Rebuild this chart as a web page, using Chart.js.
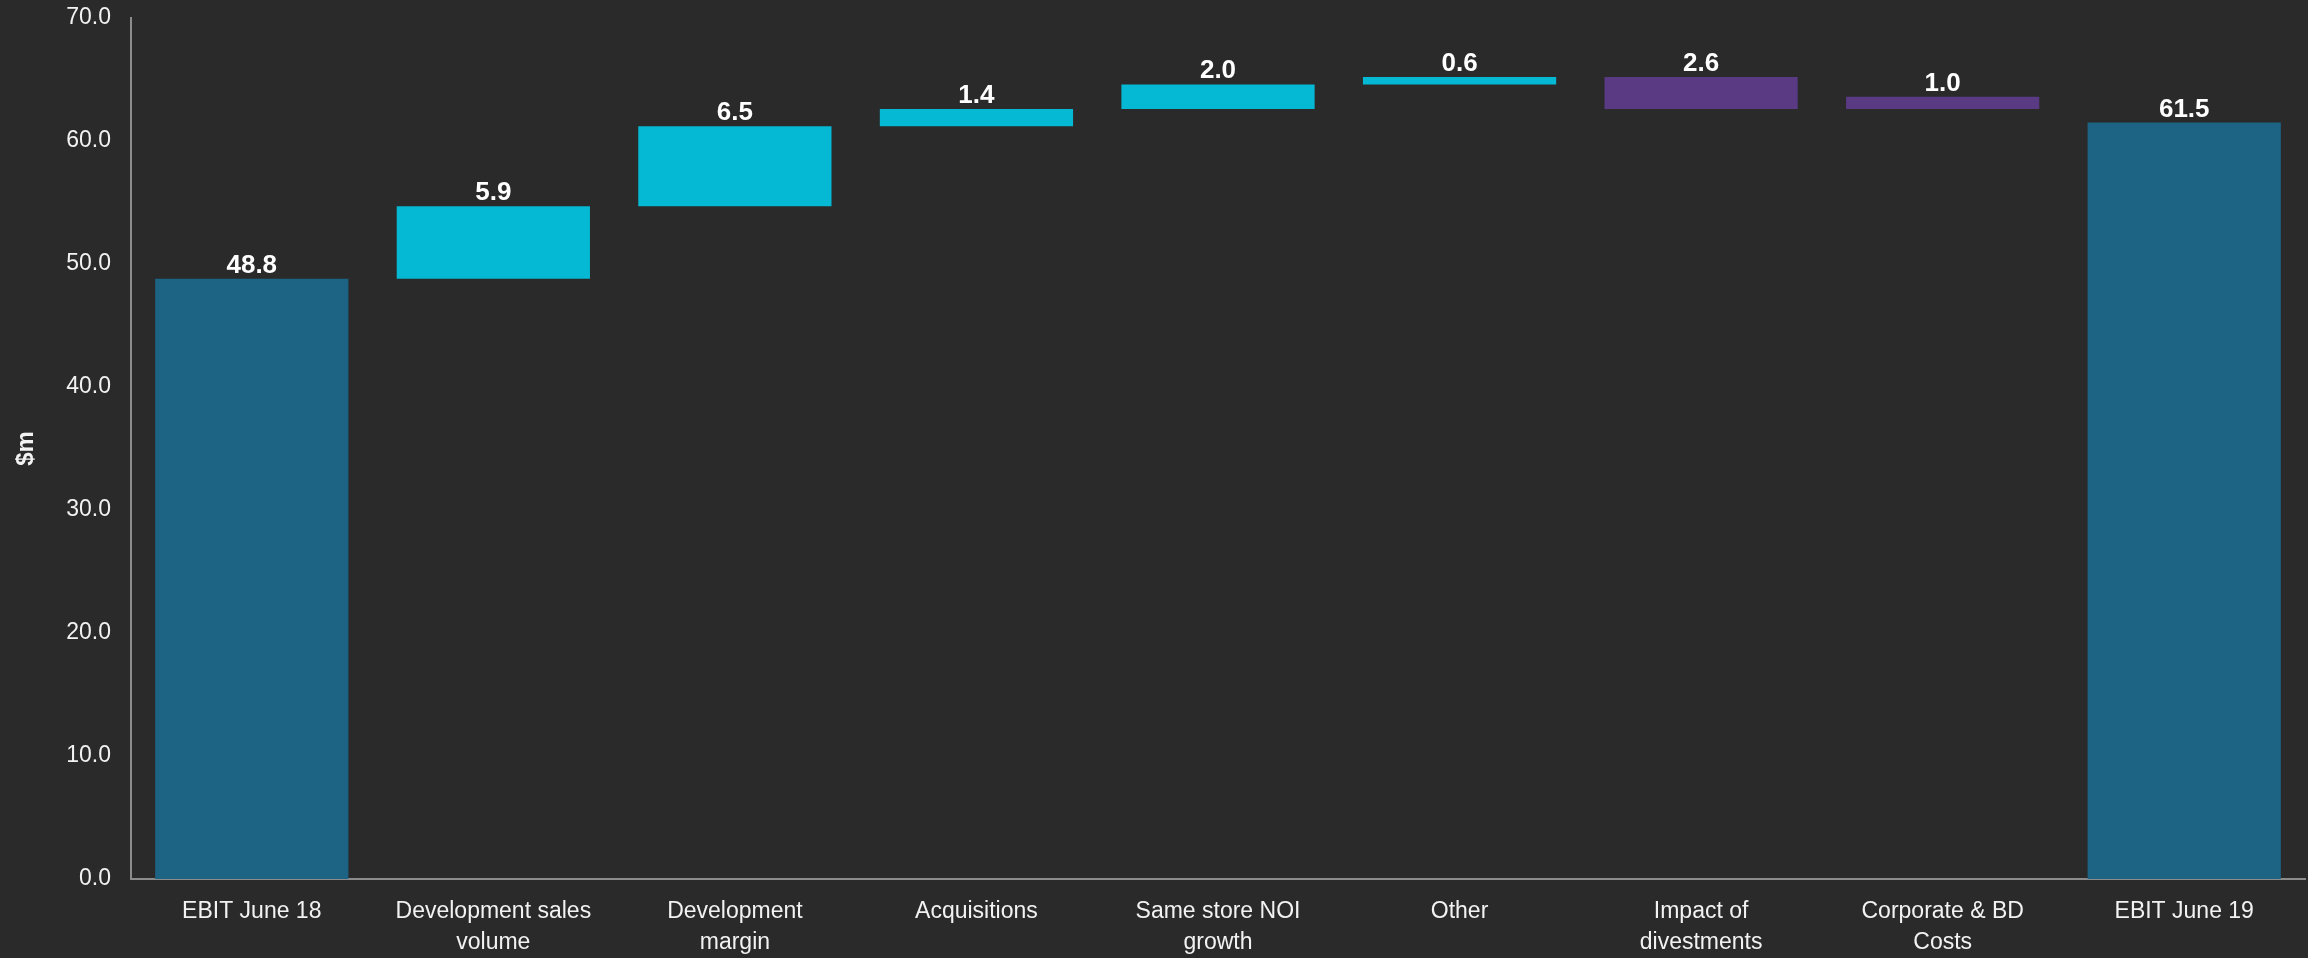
<!DOCTYPE html>
<html>
<head>
<meta charset="utf-8">
<title>EBIT bridge</title>
<script src="https://cdn.jsdelivr.net/npm/chart.js@4/dist/chart.umd.min.js"></script>
<style>
  body { margin: 0; background: #2a2a2a; }
  #wrap { width: 2308px; height: 958px; position: relative; }
</style>
</head>
<body>
<div id="wrap"><canvas id="mychart"></canvas></div>
<script>
// bridge data ($m)
var categories = [
    "EBIT June 18",
    ["Development sales", "volume"],
    ["Development", "margin"],
    "Acquisitions",
    ["Same store NOI", "growth"],
    "Other",
    ["Impact of", "divestments"],
    ["Corporate & BD", "Costs"],
    "EBIT June 19"
];
// value printed over each bar
var labelValues = [48.8, 5.9, 6.5, 1.4, 2.0, 0.6, 2.6, 1.0, 61.5];
// where each floating bar starts and ends, as drawn in the picture
var barLow = [0, 48.8, 54.7, 61.2, 62.6, 64.6, 62.6, 62.6, 0];
var barHigh = [48.8, 54.7, 61.2, 62.6, 64.6, 65.2, 65.2, 63.6, 61.5];
var barKind = ["total", "up", "up", "up", "up", "up", "down", "down", "total"];
var yTicks = [0, 10, 20, 30, 40, 50, 60, 70];

var kindColors = { total: "#1d6384", up: "#05b9d4", down: "#5a3a83" };
var fontFamily = "'Liberation Sans', Arial, sans-serif";

var ranges = barLow.map(function (lo, i) { return [lo, barHigh[i]]; });
var colors = barKind.map(function (k) { return kindColors[k]; });

// value above the top of each bar
var barLabels = {
    id: "barLabels",
    afterDatasetsDraw: function (chart) {
        var ctx = chart.ctx;
        var meta = chart.getDatasetMeta(0);
        ctx.save();
        ctx.fillStyle = "#ffffff";
        ctx.font = "bold 26px " + fontFamily;
        ctx.textAlign = "center";
        ctx.textBaseline = "alphabetic";
        meta.data.forEach(function (bar, i) {
            var top = Math.min(bar.y, bar.base);
            ctx.fillText(labelValues[i].toFixed(1), bar.x, top - 6);
        });
        ctx.restore();
    }
};

var context = document.getElementById("mychart").getContext("2d");
var chart = new Chart(context, {
    type: "bar",
    data: {
        labels: categories,
        datasets: [{
            data: ranges,
            backgroundColor: colors,
            borderWidth: 0,
            barPercentage: 0.8,
            categoryPercentage: 1
        }]
    },
    options: {
        responsive: true,
        maintainAspectRatio: false,
        animation: false,
        layout: { padding: { top: 18, right: 3, left: 0, bottom: 0 } },
        plugins: {
            legend: { display: false },
            tooltip: { enabled: false }
        },
        scales: {
            x: {
                grid: { display: false, drawTicks: false },
                border: { color: "#8c8c8c", width: 2 },
                ticks: {
                    color: "#f2f2f2",
                    padding: 17,
                    maxRotation: 0,
                    autoSkip: false,
                    font: { family: fontFamily, size: 23, lineHeight: 1.35 }
                },
                afterFit: function (scale) {
                    scale.height = 79;
                    scale.paddingLeft = 0;
                    scale.paddingRight = 0;
                }
            },
            y: {
                min: 0,
                max: 70,
                afterBuildTicks: function (scale) {
                    scale.ticks = yTicks.map(function (v) { return { value: v }; });
                },
                grid: { display: false, drawTicks: false },
                border: { color: "#8c8c8c", width: 2 },
                ticks: {
                    color: "#f2f2f2",
                    padding: 20,
                    font: { family: fontFamily, size: 23 },
                    callback: function (v) { return Number(v).toFixed(1); }
                },
                title: {
                    display: true,
                    text: "$m",
                    color: "#f2f2f2",
                    padding: { top: 12, bottom: 0 },
                    font: { family: fontFamily, size: 24, weight: "bold" }
                },
                afterFit: function (scale) {
                    scale.width = 131;
                    scale.paddingTop = 0;
                    scale.paddingBottom = 0;
                }
            }
        }
    },
    plugins: [barLabels]
});
</script>
</body>
</html>
